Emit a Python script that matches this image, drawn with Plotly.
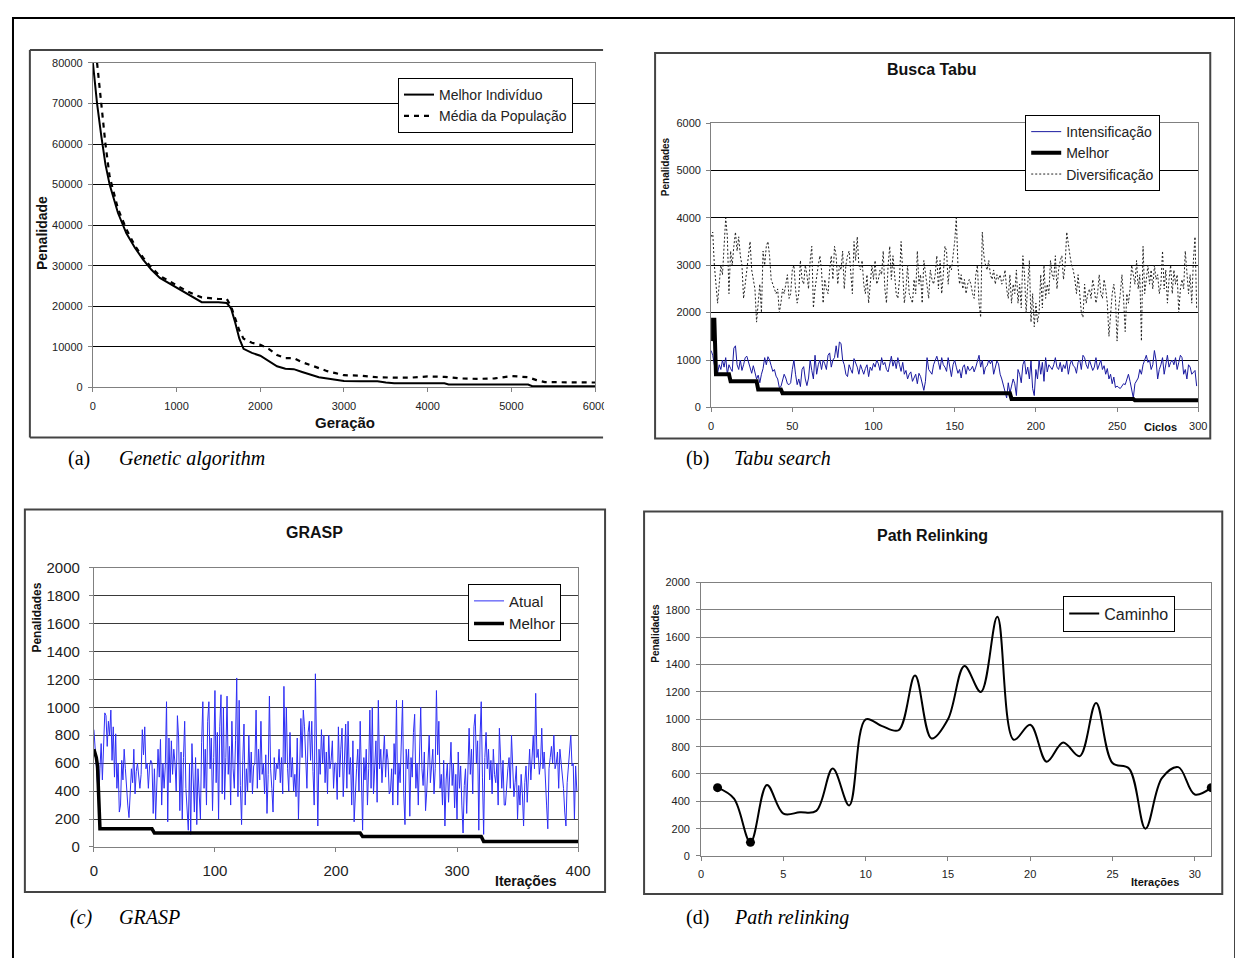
import plotly.graph_objects as go

W, H = 1243, 958
# calibration of the page capture (observed): rendered = (figure_px + shift) * scale
SX, SY = 0.986, 0.981
SHX, SHY = 12.3, 16.4

# ---------------- (a) Genetic algorithm ----------------
ga_best_x = [0, 50, 100, 150, 200, 300, 400, 500, 600, 700, 800, 900, 1000, 1100, 1200, 1300, 1400, 1500,
             1600, 1650, 1700, 1750, 1800, 1900, 2000, 2100, 2200, 2300, 2400, 2500, 2600, 2700, 2800, 2900,
             3000, 3200, 3400, 3500, 3600, 4000, 4200, 4250, 5200, 5250, 6000]
ga_best_y = [80000, 70000, 62000, 55000, 50000, 43000, 38000, 34500, 31500, 29000, 27000, 25800, 24500, 23300,
             22000, 21000, 21000, 21000, 20800, 19500, 16000, 12000, 9500, 8500, 7800, 6500, 5200, 4600, 4500,
             3800, 3200, 2500, 2200, 1900, 1600, 1500, 1500, 1200, 1000, 1000, 1000, 700, 700, 300, 300]
ga_mean_x = [50, 100, 150, 200, 300, 400, 500, 600, 700, 800, 900, 1000, 1100, 1200, 1300, 1400, 1500, 1600,
             1650, 1700, 1750, 1800, 1900, 2000, 2100, 2200, 2300, 2400, 2500, 2600, 2700, 2800, 2900, 3000,
             3200, 3400, 3600, 3800, 4000, 4200, 4400, 4600, 4800, 5000, 5200, 5300, 5400, 5600, 6000]
ga_mean_y = [80000, 70000, 60000, 52000, 44000, 39000, 35000, 32000, 29500, 27500, 26300, 25000, 24000, 23000,
             22200, 22000, 21800, 21800, 20000, 17000, 14000, 12000, 11000, 10500, 9500, 8000, 7200, 7200, 6200,
             5500, 4700, 4000, 3500, 3000, 2900, 2500, 2400, 2400, 2700, 2600, 2200, 2100, 2200, 2800, 2500,
             1800, 1300, 1300, 1200]

# ---------------- (b) Tabu search ----------------
tabu_int = [1200, 1100, 900, 700, 720, 900, 800, 1000, 850, 1050, 700, 900, 820, 760, 1250, 1300, 900, 800, 1000, 780,
            900, 1050, 1080, 950, 820, 720, 880, 700, 600, 680, 520, 700, 820, 1050, 900, 1070, 1000, 880, 760, 800,
            660, 600, 420, 440, 550, 700, 620, 500, 480, 520, 800, 1000, 700, 480, 600, 440, 800, 860, 600, 460,
            620, 1000, 780, 600, 1100, 700, 900, 1000, 800, 1000, 920, 800, 1100, 1150, 850, 1000, 1050, 1300, 1050, 1380,
            1350, 1000, 900, 700, 650, 900, 800, 720, 1030, 950, 850, 700, 900, 800, 700, 820, 900, 650, 850, 780,
            930, 850, 1000, 920, 780, 1050, 900, 950, 800, 750, 900, 1080, 870, 1000, 820, 1050, 900, 760, 950, 700,
            780, 600, 700, 750, 550, 640, 700, 500, 720, 650, 500, 360, 550, 1050, 800, 750, 700, 900, 1000, 1080,
            950, 800, 1050, 900, 850, 760, 1050, 850, 650, 900, 1000, 850, 720, 800, 620, 850, 900, 700, 870, 780,
            800, 870, 750, 850, 1000, 1100, 850, 1000, 700, 850, 880, 1000, 920, 1000, 700, 880, 980, 920, 700, 600,
            450, 300, 200, 520, 300, 450, 600, 500, 250, 800, 700, 520, 900, 1000, 700, 850, 600, 980, 400, 250,
            800, 600, 1000, 700, 950, 550, 1050, 750, 900, 850, 800, 900, 1050, 850, 800, 950, 750, 900, 820, 980,
            700, 900, 1000, 880, 850, 720, 950, 1000, 800, 1100, 1050, 900, 820, 1000, 900, 780, 850, 1050, 800, 900,
            1000, 800, 880, 700, 820, 600, 700, 500, 640, 420, 450, 420, 400, 450, 500, 480, 600, 700, 550, 400,
            200, 500, 550, 620, 800, 700, 900, 1000, 1100, 950, 1000, 800, 900, 1200, 1000, 600, 800, 900, 1050, 700,
            950, 1100, 850, 950, 1000, 900, 1050, 800, 950, 1100, 1050, 700, 800, 600, 900, 850, 700, 750, 780, 450]
tabu_div = [3600, 3700, 3000, 2500, 2200, 2600, 3000, 2800, 3500, 4000, 3600, 2400, 3300, 3000, 3400, 3700, 3300, 3600, 3200, 3000,
            2300, 2600, 2800, 3100, 3500, 2900, 2700, 2500, 1800, 2200, 2600, 2000, 3300, 3000, 3400, 3500, 3200, 2700, 2600, 2500,
            2400, 2500, 2000, 2200, 2500, 2400, 2600, 2800, 2300, 2400, 2900, 3000, 2500, 2200, 2400, 3100, 2700, 2600, 3000, 2800,
            2500, 3100, 3400, 2100, 2500, 2800, 3000, 3200, 2900, 2200, 2700, 2500, 2400, 2900, 3200, 2700, 3400, 3200, 2600, 3000,
            2900, 3300, 2500, 3000, 3200, 3300, 2800, 2400, 3500, 3100, 3600, 3000, 2900, 3100, 2600, 2400, 2800, 2200, 2600, 3000,
            2700, 3100, 2600, 2700, 2900, 2800, 3300, 2500, 2200, 3000, 3400, 2700, 3200, 2800, 2400, 2300, 2700, 3500, 2900, 2200,
            2500, 3000, 2400, 2300, 2200, 2700, 2400, 3300, 2600, 2800, 2200, 3100, 2800, 2500, 2300, 2900, 2700, 2600, 2800, 3200,
            2500, 3100, 2400, 2800, 3400, 3300, 2600, 3000, 2900, 3200, 3500, 4000, 3000, 2600, 2800, 2500, 2700, 2400, 2600, 2700,
            2600, 2400, 2300, 2800, 3000, 2200, 1900, 3700, 3200, 3000, 2900, 3100, 2800, 2700, 2900, 2600, 2800, 2700, 2800, 2600,
            2700, 2900, 2500, 2300, 2800, 2200, 2600, 2400, 2900, 2200, 2600, 2100, 3200, 2800, 2000, 2600, 3100, 1800, 2400, 1700,
            2200, 1800, 2000, 2800, 2100, 3000, 2300, 2600, 2400, 3100, 2800, 2700, 3200, 2500, 2900, 3100, 3200, 2700, 3000, 3700,
            3400, 3200, 3000, 2900, 2700, 2400, 2800, 2300, 2000, 1900, 2600, 2200, 2400, 2500, 2300, 2700, 2500, 2200, 2400, 2800,
            2400, 2300, 2700, 2500, 2200, 1500, 2000, 2400, 2600, 2300, 1400, 2100, 2400, 2800, 2300, 1600, 2400, 2200, 2500, 3000,
            2800, 2600, 3100, 2500, 2800, 1400, 3400, 2400, 2700, 3000, 2600, 2900, 2500, 3000, 2700, 2800, 2400, 2600, 3300, 2500,
            2900, 2200, 2700, 3000, 2400, 2900, 2600, 2800, 2000, 2500, 2700, 2500, 3300, 2900, 2400, 2800, 2200, 3100, 3600, 2100]
tabu_cycles = list(range(len(tabu_int)))
tabu_best_x = [0, 1, 2, 3, 11, 12, 28, 29, 43, 44, 184, 185, 260, 261, 300]
tabu_best_y = [1400, 1850, 1850, 700, 700, 550, 550, 380, 380, 300, 300, 180, 180, 150, 150]

# ---------------- (c) GRASP ----------------
grasp_cur = [840, 700, 620, 400, 320, 560, 740, 480, 760, 960, 940, 720, 900, 800, 980, 620, 860, 500, 810, 420,
             600, 250, 300, 620, 480, 700, 560, 380, 300, 210, 420, 560, 460, 700, 380, 540, 600, 480, 420, 520,
             840, 660, 860, 560, 600, 420, 580, 620, 600, 240, 560, 200, 420, 700, 500, 770, 300, 600, 420, 580,
             1040, 180, 780, 460, 760, 520, 700, 600, 400, 940, 780, 260, 680, 200, 640, 900, 420, 240, 120, 600,
             90, 740, 420, 250, 640, 160, 560, 340, 200, 750, 1040, 420, 700, 300, 900, 1040, 560, 780, 260, 640,
             1120, 460, 820, 200, 860, 1090, 380, 1000, 340, 640, 1080, 520, 720, 300, 900, 560, 420, 760, 1210, 360,
             1050, 440, 160, 620, 880, 300, 560, 400, 800, 460, 680, 380, 580, 600, 980, 420, 700, 480, 900, 520,
             600, 380, 660, 240, 520, 1080, 560, 420, 250, 640, 480, 600, 560, 700, 460, 640, 380, 1150, 600, 1000,
             560, 400, 820, 500, 640, 400, 520, 360, 780, 200, 480, 920, 640, 980, 860, 600, 420, 820, 900, 620,
             900, 540, 300, 1240, 560, 150, 700, 520, 840, 600, 800, 460, 680, 380, 800, 560, 620, 760, 420, 600,
             600, 340, 860, 500, 700, 850, 360, 560, 880, 420, 900, 520, 640, 300, 760, 180, 440, 560, 700, 400,
             900, 560, 120, 640, 480, 700, 300, 560, 980, 420, 1000, 380, 640, 760, 320, 1050, 560, 700, 460, 620,
             800, 500, 700, 620, 380, 400, 560, 300, 740, 520, 1050, 300, 600, 460, 760, 1050, 380, 160, 700, 560,
             700, 220, 640, 500, 820, 950, 420, 600, 300, 740, 1000, 560, 440, 680, 260, 400, 620, 800, 460, 560,
             700, 380, 560, 1120, 660, 900, 420, 520, 300, 620, 150, 480, 600, 320, 560, 750, 440, 600, 280, 520,
             200, 680, 420, 580, 300, 100, 440, 560, 240, 640, 850, 520, 700, 380, 860, 950, 600, 760, 120, 780,
             1040, 500, 90, 640, 820, 560, 700, 480, 620, 380, 700, 520, 460, 600, 300, 850, 560, 420, 620, 300,
             300, 480, 560, 640, 420, 800, 520, 360, 460, 580, 200, 440, 300, 520, 380, 150, 460, 580, 320, 560,
             700, 480, 620, 800, 560, 1100, 640, 700, 520, 600, 850, 560, 680, 420, 300, 130, 560, 640, 720, 600,
             800, 560, 600, 680, 420, 700, 600, 560, 420, 250, 150, 460, 580, 640, 800, 580, 600, 200, 580, 400]
grasp_iter = list(range(len(grasp_cur)))
grasp_best_x = [0, 2, 3, 4, 5, 48, 50, 220, 222, 320, 322, 400]
grasp_best_y = [700, 640, 580, 300, 130, 130, 100, 100, 75, 75, 40, 40]

# ---------------- (d) Path relinking ----------------
pr_x = list(range(1, 32))
pr_y = [500, 420, 100, 520, 310, 320, 330, 640, 370, 1000, 950, 920, 1320, 860, 1000, 1390, 1200, 1750, 850,
        960, 690, 830, 730, 1120, 680, 640, 200, 570, 650, 450, 500]
pr_marked = [0, 2, 30]  # indices of the highlighted points


def px(x):
    return (x / SX - SHX) / W


def py(y):
    return 1 - (y / SY - SHY) / H


NARROW = "Liberation Sans Narrow, Arial Narrow, Liberation Sans, Arial"
SANS = "Liberation Sans, Arial"

fig = go.Figure()

# (a)
fig.add_trace(go.Scatter(x=ga_best_x, y=ga_best_y, mode="lines", name="Melhor Indivíduo",
                         line=dict(color="black", width=2), xaxis="x", yaxis="y", legend="legend"))
fig.add_trace(go.Scatter(x=ga_mean_x, y=ga_mean_y, mode="lines", name="Média da População",
                         line=dict(color="black", width=2.2, dash="5px,5px"), xaxis="x", yaxis="y", legend="legend"))
# (b)
fig.add_trace(go.Scatter(x=tabu_cycles, y=tabu_int, mode="lines", name="Intensificação",
                         line=dict(color="#1a1aa0", width=1), xaxis="x2", yaxis="y2", legend="legend2"))
fig.add_trace(go.Scatter(x=tabu_best_x, y=tabu_best_y, mode="lines", name="Melhor",
                         line=dict(color="black", width=4), xaxis="x2", yaxis="y2", legend="legend2"))
fig.add_trace(go.Scatter(x=tabu_cycles, y=tabu_div, mode="lines", name="Diversificação",
                         line=dict(color="#222222", width=1, dash="2px,2px"), xaxis="x2", yaxis="y2", legend="legend2"))
# (c)
fig.add_trace(go.Scatter(x=grasp_iter, y=grasp_cur, mode="lines", name="Atual",
                         line=dict(color="#2f2ff5", width=1), xaxis="x3", yaxis="y3", legend="legend3"))
fig.add_trace(go.Scatter(x=grasp_best_x, y=grasp_best_y, mode="lines", name="Melhor",
                         line=dict(color="black", width=3.5), xaxis="x3", yaxis="y3", legend="legend3"))
# (d)
fig.add_trace(go.Scatter(x=pr_x, y=pr_y, mode="lines", name="Caminho",
                         line=dict(color="black", width=2, shape="spline", smoothing=1.0),
                         xaxis="x4", yaxis="y4", legend="legend4"))
fig.add_trace(go.Scatter(x=[pr_x[i] for i in pr_marked], y=[pr_y[i] for i in pr_marked], mode="markers",
                         marker=dict(color="black", size=9), showlegend=False, xaxis="x4", yaxis="y4"))


def xax(l, r, rng, dtick, font, anchor, standoff=2):
    return dict(domain=[px(l), px(r)], range=rng, dtick=dtick, showgrid=False, zeroline=False,
                showline=True, linecolor="#808080", linewidth=1, mirror=True, ticks="outside", ticklen=4,
                tickcolor="#808080", tickfont=font, anchor=anchor, fixedrange=True, tickformat="d",
                ticklabelstandoff=standoff)


def yax(b, t, rng, dtick, font, anchor, grid="black", standoff=2):
    return dict(domain=[py(b), py(t)], range=rng, dtick=dtick, showgrid=True, gridcolor=grid, gridwidth=1,
                zeroline=False, showline=True, linecolor="#808080", linewidth=1, mirror=True, ticks="outside",
                ticklen=4, tickcolor="#808080", tickfont=font, anchor=anchor, fixedrange=True, tickformat="d",
                ticklabelstandoff=standoff)


fa = dict(family=NARROW, size=11, color="#222")
fs = dict(family=SANS, size=11, color="#222")
fc = dict(family=SANS, size=15, color="#222")

layout = dict(
    width=W, height=H, margin=dict(l=0, r=0, t=0, b=0), paper_bgcolor="white", plot_bgcolor="white",
    xaxis=xax(93, 595, [0, 6000], 1000, fa, "y", standoff=4),
    yaxis=yax(386, 62, [0, 80000], 10000, fa, "x", standoff=3),
    xaxis2=xax(711, 1198, [0, 300], 50, fs, "y2", standoff=4),
    yaxis2=yax(406, 122, [0, 6000], 1000, fs, "x2", standoff=3),
    xaxis3=xax(94, 578, [0, 400], 100, fc, "y3", standoff=6),
    yaxis3=yax(845, 566, [0, 2000], 200, fc, "x3", grid="#3a3a3a", standoff=6),
    xaxis4=xax(701, 1211, [0, 31], 5, fs, "y4", standoff=4),
    yaxis4=yax(854, 581, [0, 2000], 200, fs, "x4", grid="#808080", standoff=4),
    legend=dict(x=px(398), y=py(77), xanchor="left", yanchor="top", bgcolor="white", bordercolor="black",
                borderwidth=1, font=dict(family=NARROW, size=14, color="#222"), tracegroupgap=0, itemwidth=30),
    legend2=dict(x=px(1025), y=py(114), xanchor="left", yanchor="top", bgcolor="white", bordercolor="black",
                 borderwidth=1, font=dict(family=SANS, size=14, color="#222"), tracegroupgap=0, itemwidth=30),
    legend3=dict(x=px(468), y=py(582), xanchor="left", yanchor="top", bgcolor="white", bordercolor="black",
                 borderwidth=1, font=dict(family=SANS, size=15, color="#222"), tracegroupgap=0, itemwidth=30),
    legend4=dict(x=px(1063), y=py(594), xanchor="left", yanchor="top", bgcolor="white", bordercolor="black",
                 borderwidth=1, font=dict(family=SANS, size=16, color="#222"), tracegroupgap=0, itemwidth=30),
)
fig.update_layout(**layout)

shapes = []
# outer page border (left/top edges as close to the page corner as the figure allows)
shapes.append(dict(type="rect", xref="paper", yref="paper", x0=1 / W, x1=px(1235), y0=py(975), y1=1 - 1 / H,
                   line=dict(color="black", width=2)))
# white clip on the right of chart (a)
shapes.append(dict(type="rect", xref="paper", yref="paper", x0=px(604), x1=px(640), y0=py(430), y1=py(395),
                   fillcolor="white", line=dict(width=0), layer="above"))
# chart (a) frame (open on right side)
for (x0, y0, x1, y1) in [(30, 49, 603, 49), (30, 49, 30, 436), (30, 436, 603, 436)]:
    shapes.append(dict(type="line", xref="paper", yref="paper", x0=px(x0), y0=py(y0), x1=px(x1), y1=py(y1),
                       line=dict(color="#444", width=2)))
# chart frames (b), (c), (d)
for (l, t, r, b) in [(655, 52, 1210, 437), (25, 508, 605, 890), (644, 510, 1222, 892)]:
    shapes.append(dict(type="rect", xref="paper", yref="paper", x0=px(l), x1=px(r), y0=py(b), y1=py(t),
                       line=dict(color="#444", width=2)))
fig.update_layout(shapes=shapes)

ann = []


def A(text, x, y, size, family=SANS, angle=0, xanchor="center", color="#111"):
    ann.append(dict(text=text, x=px(x), y=py(y), xref="paper", yref="paper", showarrow=False,
                    textangle=angle, xanchor=xanchor, yanchor="middle",
                    font=dict(family=family, size=size, color=color)))


# titles
A("<b>Busca Tabu</b>", 932, 69, 16)
A("<b>GRASP</b>", 315, 531, 16)
A("<b>Path Relinking</b>", 932, 534, 16)
# axis titles
A("<b>Penalidade</b>", 42, 232, 14, angle=-90)
A("<b>Geração</b>", 345, 421, 15)
A("<b>Penalidades</b>", 665, 166, 10, angle=-90)
A("<b>Ciclos</b>", 1160, 426, 11)
A("<b>Penalidades</b>", 37, 616, 12, angle=-90)
A("<b>Iterações</b>", 526, 879, 14)
A("<b>Penalidades</b>", 656, 632, 10, angle=-90)
A("<b>Iterações</b>", 1155, 880, 11)
# captions
SERIF = "Liberation Serif, Times New Roman, serif"
A("(a)", 66, 457, 20, SERIF, xanchor="left", color="black")
A("<i>Genetic algorithm</i>", 117, 457, 20, SERIF, xanchor="left", color="black")
A("(b)", 684, 457, 20, SERIF, xanchor="left", color="black")
A("<i>Tabu search</i>", 732, 457, 20, SERIF, xanchor="left", color="black")
A("<i>(c)</i>", 68, 915, 20, SERIF, xanchor="left", color="black")
A("<i>GRASP</i>", 117, 915, 20, SERIF, xanchor="left", color="black")
A("(d)", 684, 915, 20, SERIF, xanchor="left", color="black")
A("<i>Path relinking</i>", 732, 915, 20, SERIF, xanchor="left", color="black")
fig.update_layout(annotations=ann)

fig.write_html("out.html")
